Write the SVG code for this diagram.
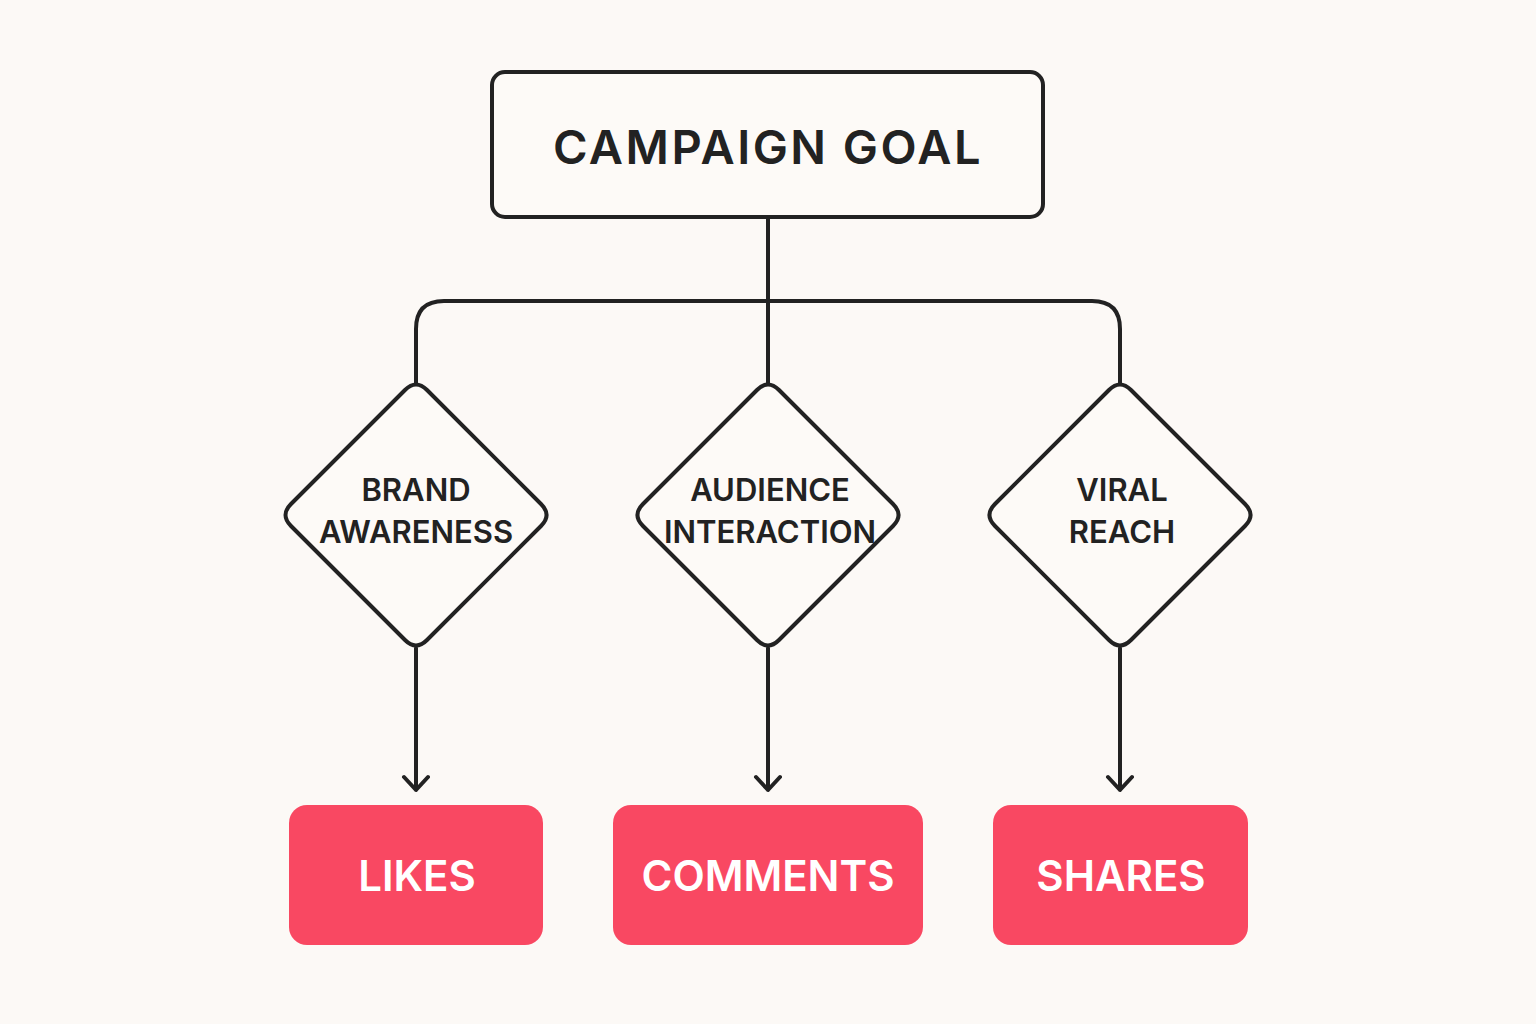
<svg xmlns="http://www.w3.org/2000/svg" width="1536" height="1024" viewBox="0 0 1536 1024">
<defs>
<style>
.ln{fill:none;stroke:#222;stroke-width:4;stroke-linecap:round;stroke-linejoin:round}
.dia{fill:#fdfaf7;stroke:#222;stroke-width:4;stroke-linejoin:round}
.dt{font-family:Inter,"Liberation Sans",sans-serif;font-size:31px;font-weight:600;fill:#222;text-anchor:middle}
.rb{fill:#f94862}
.rt{font-family:Inter,"Liberation Sans",sans-serif;font-size:42px;font-weight:600;fill:#fff;text-anchor:middle}
</style>
</defs>
<rect width="1536" height="1024" fill="#fcf9f6"/>
<g id="connectors">
<path class="ln" d="M768 217 V383"/>
<path class="ln" d="M416 383 V329 Q416 301 444 301 H1092 Q1120 301 1120 329 V383"/>
<path class="ln" d="M416 648 V790 M404 777 L416 790 L428 777"/>
<path class="ln" d="M768 648 V790 M756 777 L768 790 L780 777"/>
<path class="ln" d="M1120 648 V790 M1108 777 L1120 790 L1132 777"/>
</g>
<g id="goal">
<rect x="492" y="72" width="551" height="145" rx="13" fill="#fdfaf7" stroke="#222" stroke-width="4"/>
<text x="768" y="164" font-family="Inter,'Liberation Sans',sans-serif" font-size="47" font-weight="600" fill="#222" text-anchor="middle" letter-spacing="2.5">CAMPAIGN GOAL</text>
</g>
<g id="brand">
<path class="dia" d="M405 390 Q416 379 427 390 L541 504 Q552 515 541 526 L427 640 Q416 651 405 640 L291 526 Q280 515 291 504 Z"/>
<text class="dt" x="416" y="501">BRAND</text>
<text class="dt" x="416" y="543">AWARENESS</text>
</g>
<g id="audience">
<path class="dia" d="M757 390 Q768 379 779 390 L893 504 Q904 515 893 526 L779 640 Q768 651 757 640 L643 526 Q632 515 643 504 Z"/>
<text class="dt" x="770" y="501">AUDIENCE</text>
<text class="dt" x="770" y="543">INTERACTION</text>
</g>
<g id="viral">
<path class="dia" d="M1109 390 Q1120 379 1131 390 L1245 504 Q1256 515 1245 526 L1131 640 Q1120 651 1109 640 L995 526 Q984 515 995 504 Z"/>
<text class="dt" x="1122" y="501">VIRAL</text>
<text class="dt" x="1122" y="543">REACH</text>
</g>
<g id="likes">
<rect class="rb" x="289" y="805" width="254" height="140" rx="18"/>
<text class="rt" x="417" y="891">LIKES</text>
</g>
<g id="comments">
<rect class="rb" x="613" y="805" width="310" height="140" rx="18"/>
<text class="rt" x="768" y="891">COMMENTS</text>
</g>
<g id="shares">
<rect class="rb" x="993" y="805" width="255" height="140" rx="18"/>
<text class="rt" x="1121" y="891">SHARES</text>
</g>
</svg>
